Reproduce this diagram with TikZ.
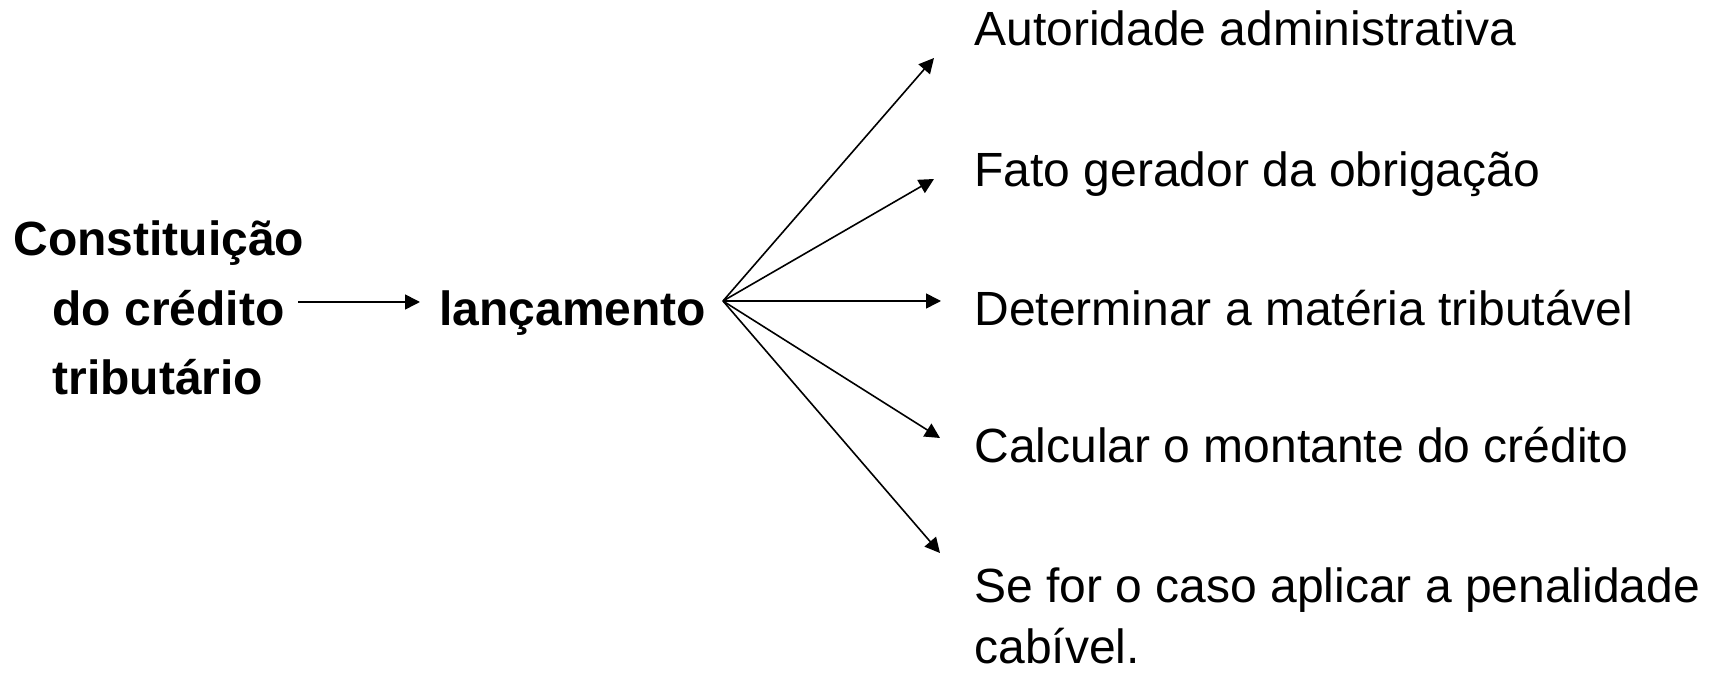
\documentclass[tikz,border=0pt]{standalone}
\usepackage{fontspec}
\setmainfont{Liberation Sans}
\usetikzlibrary{arrows.meta}
\begin{document}
\begin{tikzpicture}[x=0.5pt,y=-0.5pt,
  lbl/.style={font=\fontsize{24pt}{28pt}\selectfont, inner sep=0pt, anchor=base west},
  bld/.style={lbl, font=\fontsize{24pt}{28pt}\selectfont\bfseries},
  arr/.style={draw=black, line width=0.8pt, -{Triangle[length=7.5pt,width=7.5pt]}}]
\useasboundingbox (0,0) rectangle (1710,673);
% left block
\node[bld] (c1) at (13,256) {Constituição};
\node[bld] (c2) at (52,326) {do crédito};
\node[bld] (c3) at (52,395) {tributário};
\node[bld] (lanc) at (439,326) {lançamento};
% right items
\node[lbl] (t1) at (974,46) {Autoridade administrativa};
\node[lbl] (t2) at (974,187) {Fato gerador da obrigação};
\node[lbl] (t3) at (974,326) {Determinar a matéria tributável};
\node[lbl] (t4) at (974,463) {Calcular o montante do crédito};
\node[lbl] (t5) at (974,603) {Se for o caso aplicar a penalidade};
\node[lbl] (t6) at (974,664) {cabível.};
% connector points
\coordinate (s0) at (298,302);
\coordinate (e0) at (420,302);
\coordinate (fan) at (723,301);
\coordinate (e1) at (934,58);
\coordinate (e2) at (934,179);
\coordinate (e3) at (941,301);
\coordinate (e4) at (940,438);
\coordinate (e5) at (940,553);
\draw[arr] (s0) -- (e0);
\draw[arr] (fan) -- (e1);
\draw[arr] (fan) -- (e2);
\draw[arr] (fan) -- (e3);
\draw[arr] (fan) -- (e4);
\draw[arr] (fan) -- (e5);
\end{tikzpicture}
\end{document}
